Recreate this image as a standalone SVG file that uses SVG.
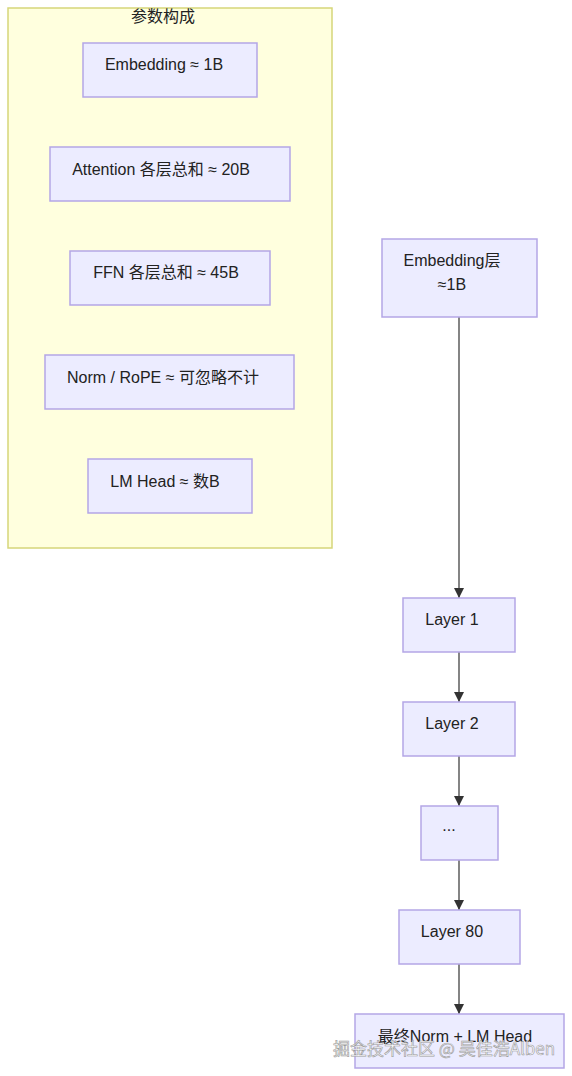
<svg xmlns="http://www.w3.org/2000/svg" width="572" height="1076" viewBox="0 0 572 1076">
<defs>
<style>
.node rect{fill:#ECECFF;stroke:#b4a6e6;stroke-width:1.5}
.node text{font-family:"Liberation Sans","Noto Sans CJK SC",sans-serif;font-size:16px;fill:#222;text-anchor:middle;dominant-baseline:central}
.cluster rect{fill:#ffffde;stroke:#d6d67a;stroke-width:1.5}
.cluster text{font-family:"Liberation Sans","Noto Sans CJK SC",sans-serif;font-size:16px;fill:#222;text-anchor:middle;dominant-baseline:central}
.edge{stroke:#333;stroke-width:1.2;fill:none;marker-end:url(#arr)}
.wm{font-family:"Noto Sans CJK SC","Liberation Sans",sans-serif;font-size:17px;fill:#ffffff;fill-opacity:0.85;stroke:#999;stroke-width:0.6}
</style>
<marker id="arr" viewBox="0 0 10 10" refX="10" refY="5" markerWidth="10" markerHeight="10" markerUnits="userSpaceOnUse" orient="auto">
<path d="M0,0 L10,5 L0,10 z" fill="#333"/>
</marker>
</defs>
<rect width="572" height="1076" fill="#ffffff"/>
<g id="cluster-params" class="cluster">
<rect x="8" y="8" width="324" height="540"/>
<text x="163" y="16">参数构成</text>
</g>
<g id="p-embedding" class="node"><rect x="83" y="43" width="174" height="54"/><text x="164" y="64">Embedding ≈ 1B</text></g>
<g id="p-attention" class="node"><rect x="50" y="147" width="240" height="54"/><text x="161" y="169">Attention 各层总和 ≈ 20B</text></g>
<g id="p-ffn" class="node"><rect x="70" y="251" width="200" height="54"/><text x="166" y="272">FFN 各层总和 ≈ 45B</text></g>
<g id="p-norm" class="node"><rect x="45" y="355" width="249" height="54"/><text x="163" y="377">Norm / RoPE ≈ 可忽略不计</text></g>
<g id="p-lmhead" class="node"><rect x="88" y="459" width="164" height="54"/><text x="165" y="481">LM Head ≈ 数B</text></g>
<g id="connectors">
<line class="edge" x1="459" y1="317" x2="459" y2="598"/>
<line class="edge" x1="459" y1="652" x2="459" y2="702"/>
<line class="edge" x1="459" y1="756" x2="459" y2="806"/>
<line class="edge" x1="459" y1="860" x2="459" y2="910"/>
<line class="edge" x1="459" y1="964" x2="459" y2="1014"/>
</g>
<g id="n-embedding" class="node"><rect x="382" y="239" width="155" height="78"/><text x="452" y="260">Embedding层</text><text x="452" y="284">≈1B</text></g>
<g id="n-layer1" class="node"><rect x="403" y="598" width="112" height="54"/><text x="452" y="619">Layer 1</text></g>
<g id="n-layer2" class="node"><rect x="403" y="702" width="112" height="54"/><text x="452" y="723">Layer 2</text></g>
<g id="n-dots" class="node"><rect x="421" y="806" width="77" height="54"/><text x="449" y="825">...</text></g>
<g id="n-layer80" class="node"><rect x="399" y="910" width="121" height="54"/><text x="452" y="931">Layer 80</text></g>
<g id="n-final" class="node"><rect x="355" y="1014" width="209" height="54"/><text x="455" y="1036">最终Norm + LM Head</text></g>
<text class="wm" x="333" y="1055">掘金技术社区 @ 吴佳浩Alben</text>
</svg>
